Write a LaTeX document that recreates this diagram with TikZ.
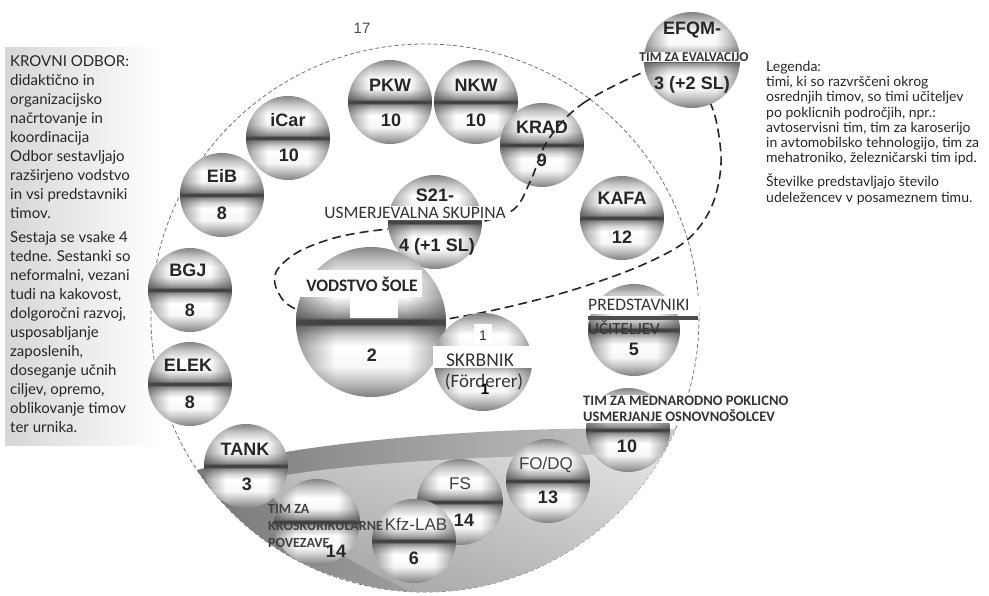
\documentclass[tikz,border=0pt]{standalone}
\usepackage{fontspec}
\setmainfont{Lato}
\newfontfamily\arialf{Liberation Sans}
\newfontfamily\calf{Carlito}
\usetikzlibrary{fadings}
\pgfdeclareverticalshading{chrome}{100bp}{%
 color(0bp)=(black!50);
 color(25bp)=(black!50);
 color(29bp)=(black!30);
 color(35bp)=(black!3);
 color(42bp)=(white);
 color(45.5bp)=(black!18);
 color(48.5bp)=(black!45);
 color(49.3bp)=(black!74);
 color(50.7bp)=(black!74);
 color(51.5bp)=(black!48);
 color(54bp)=(black!28);
 color(58bp)=(black!3);
 color(64bp)=(white);
 color(70bp)=(black!22);
 color(75bp)=(black!48);
 color(100bp)=(black!48)}
\pgfdeclarehorizontalshading{hedgesh}{100bp}{%
 color(0bp)=(black!40);
 color(25bp)=(black!40);
 color(31bp)=(black!70);
 color(38bp)=(black);
 color(62bp)=(black);
 color(69bp)=(black!70);
 color(75bp)=(black!40);
 color(100bp)=(black!40)}
\pgfdeclarefading{hedge}{\pgfuseshading{hedgesh}}
\tikzset{
 sph/.style={circle, inner sep=0pt, minimum size=#1, shading=chrome,
   path picture={\fill[black!70, path fading=hedge] (path picture bounding box.south west) rectangle (path picture bounding box.north east);}},
 big/.style={font=\arialf\bfseries\fontsize{18}{18}\selectfont, text=black!85, inner sep=1pt},
 reg/.style={font=\arialf\fontsize{17}{17}\selectfont, text=black!75, inner sep=1pt},
 capl/.style={font=\calf\bfseries\fontsize{13.5}{15}\selectfont, text=black!80, inner sep=1pt},
 wb/.style={fill=white},
 thindash/.style={draw=black!55, line width=0.8pt, dash pattern=on 4pt off 2.5pt},
 loopdash/.style={draw=black!85, line width=1.6pt, dash pattern=on 9pt off 5pt},
 body/.style={font=\fontsize{14}{15}\selectfont, text=black!85, align=left, inner sep=0pt, anchor=north west},
}
\begin{document}
\begin{tikzpicture}[x=1pt,y=-1pt]
\useasboundingbox (0,0) rectangle (989,596);
% left box
\shade[left color=black!16, right color=white] (5,48) rectangle (160,445);
\node[body, font=\fontsize{15}{19}\selectfont] (krovni) at (10,55) {KROVNI ODBOR:\\
didaktično in\\
organizacijsko\\
načrtovanje in\\
koordinacija\\
Odbor sestavljajo\\
razširjeno vodstvo\\
in vsi predstavniki\\
timov.\\[5pt]
Sestaja se vsake 4\\
tedne. Sestanki so\\
neformalni, vezani\\
tudi na kakovost,\\
dolgoročni razvoj,\\
usposabljanje\\
zaposlenih,\\
doseganje učnih\\
ciljev, opremo,\\
oblikovanje timov\\
ter urnika.};
% legend
\node[body, font=\fontsize{14}{15.2}\selectfont] (legenda) at (766,61) {Legenda:\\
timi, ki so razvrščeni okrog\\
osrednjih timov, so timi učiteljev\\
po poklicnih področjih, npr.:\\
avtoservisni tim, tim za karoserijo\\
in avtomobilsko tehnologijo, tim za\\
mehatroniko, železničarski tim ipd.\\[9pt]
Številke predstavljajo število\\
udeležencev v posameznem timu.};
% big dashed circle
\coordinate (cc) at (425,318);
\draw[thindash] (cc) circle[radius=274];
\node[font=\arialf\fontsize{15}{15}\selectfont, text=black!70] (n17) at (362,28) {17};
% bottom dish
\begin{scope}
\clip (cc) circle[radius=274];
\shade[left color=black!55, right color=black!18]
 (168,478) .. controls (300,438) and (520,423) .. (705,430) -- (705,600) -- (430,600)
 .. controls (300,575) and (205,530) .. cycle;
\shade[top color=black!0, bottom color=black!30, opacity=0.5]
 (260,480) .. controls (350,460) and (560,452) .. (700,455) -- (700,600) -- (430,600) .. controls (340,560) and (290,525) .. cycle;
\end{scope}
% outer ring spheres
\node[sph=84] (icar) at (288,138) {};
\node[big] (icarL) at (288,120) {iCar};
\node[big] (icarN) at (289,155) {10};
\node[sph=84] (pkw) at (390,102) {};
\node[big] (pkwL) at (390,85) {PKW};
\node[big] (pkwN) at (391,120) {10};
\node[sph=84] (nkw) at (476,102) {};
\node[big] (nkwL) at (476,85) {NKW};
\node[big] (nkwN) at (476,120) {10};
\node[sph=84] (eib) at (222,195) {};
\node[big] (eibL) at (222,176) {EiB};
\node[big] (eibN) at (222,213) {8};
\node[sph=84] (bgj) at (190,290) {};
\node[big] (bgjL) at (188,270) {BGJ};
\node[big] (bgjN) at (190,310) {8};
\node[sph=84] (elek) at (190,384) {};
\node[big] (elekL) at (188,365) {ELEK};
\node[big] (elekN) at (190,402) {8};
\node[sph=84] (krad) at (542,145) {};
\node[big] (kradL) at (542,127) {KRAD};
\node[big] (kradN) at (542,160) {9};
\node[sph=84] (kafa) at (622,218) {};
\node[big] (kafaL) at (622,198) {KAFA};
\node[big] (kafaN) at (622,237) {12};
\node[sph=92] (pred) at (634,330) {};
\node[wb, minimum width=112pt, minimum height=18pt, inner sep=0pt] (predbox) at (643,305) {};
\node[font=\calf\fontsize{17.5}{17}\selectfont, text=black!80, anchor=west, inner sep=0pt] (predL) at (588,305) {PREDSTAVNIKI};
\fill[black!70] (588,316) rectangle (698,320);
\node[font=\calf\fontsize{17}{17}\selectfont, text=black!80, anchor=west, inner sep=0pt] (predL2) at (588,328) {UČITELJEV};
\node[big] (predN) at (634,349) {5};
\node[sph=84] (mednar) at (628,430) {};
\node[wb, align=left, font=\calf\bfseries\fontsize{14.5}{16}\selectfont, text=black!80, anchor=north west, inner sep=1pt] (mednarL) at (582,395) {TIM ZA MEDNARODNO POKLICNO\\USMERJANJE OSNOVNOŠOLCEV};
\node[big] (mednarN) at (627,446) {10};
% thick dashed loop
\draw[loopdash] plot[smooth cycle, tension=0.55] coordinates {(660,66) (585,102) (548,140) (530,182) (510,212) (450,228) (390,229) (338,237) (298,252) (276,272) (278,292) (298,310) (371,330) (453,318) (512,306) (576,289) (640,266) (686,241) (711,208) (721,165) (716,120) (704,90) (690,72)};
% EFQM
\node[sph=96] (efqm) at (692,60) {};
\node[big] (efqmL) at (692,30) {EFQM-};
\node[capl, wb, minimum width=114pt] (efqmT) at (694,57) {TIM ZA EVALVACIJO};
\node[big] (efqmN) at (692,85) {3 (+2 SL)};
% S21
\node[sph=94] (s21) at (435,222) {};
\node[big] (s21L) at (435,195) {S21-};
\node[wb, font=\calf\fontsize{17.5}{17}\selectfont, text=black!80, inner sep=1pt] (s21T) at (415,213) {USMERJEVALNA SKUPINA};
\node[big] (s21N) at (437,247) {4 (+1 SL)};
% Vodstvo
\node[sph=150] (vod) at (371,322) {};
\node[wb, minimum width=122pt, minimum height=27pt, inner sep=0pt] (vodbox) at (361,284) {};
\node[font=\calf\bfseries\fontsize{17.5}{17}\selectfont, text=black!85] (vodL) at (362,284) {VODSTVO ŠOLE};
\fill[white] (350,296) rectangle (398,318);
\node[big] (vodN) at (372,355) {2};
% Skrbnik
\node[sph=98] (skr) at (483,362) {};
\node[wb, minimum width=18pt, minimum height=20pt, inner sep=0pt] (skr1b) at (483,334) {};
\node[font=\arialf\fontsize{14}{14}\selectfont, text=black!80] (skr1) at (483,336) {1};
\node[wb, minimum width=108pt, minimum height=22pt, inner sep=0pt] (skrbox) at (487,357) {};
\node[font=\calf\fontsize{19.5}{19}\selectfont, text=black!80] (skrL) at (480,360) {SKRBNIK};
\node[font=\calf\fontsize{19}{19}\selectfont, text=black!80] (skrL2) at (484,382) {(Förderer)};
\node[font=\arialf\bfseries\fontsize{15}{15}\selectfont, text=black] (skrN) at (485,389) {1};
% bottom spheres
\node[sph=84] (tank) at (246,466) {};
\node[big] (tankL) at (245,449) {TANK};
\node[big] (tankN) at (247,484) {3};
\node[sph=86] (kros) at (317,522) {};
\node[sph=86] (fs) at (460,502) {};
\node[reg] (fsL) at (460,484) {FS};
\node[big] (fsN) at (464,520) {14};
\node[sph=84] (kfz) at (414,541) {};
\node[reg] (kfzL) at (416,524) {Kfz-LAB};
\node[big] (kfzN) at (414,558) {6};
\node[font=\calf\bfseries\fontsize{14}{17}\selectfont, text=black!75, align=left, anchor=north west, inner sep=0pt] (krosL) at (268,504) {TIM ZA\\KROSKURIKULARNE\\POVEZAVE};
\node[big] (krosN) at (336,551) {14};
\node[sph=84] (fodq) at (548,481) {};
\node[reg] (fodqL) at (546,465) {FO/DQ};
\node[big] (fodqN) at (548,497) {13};
\end{tikzpicture}
\end{document}
